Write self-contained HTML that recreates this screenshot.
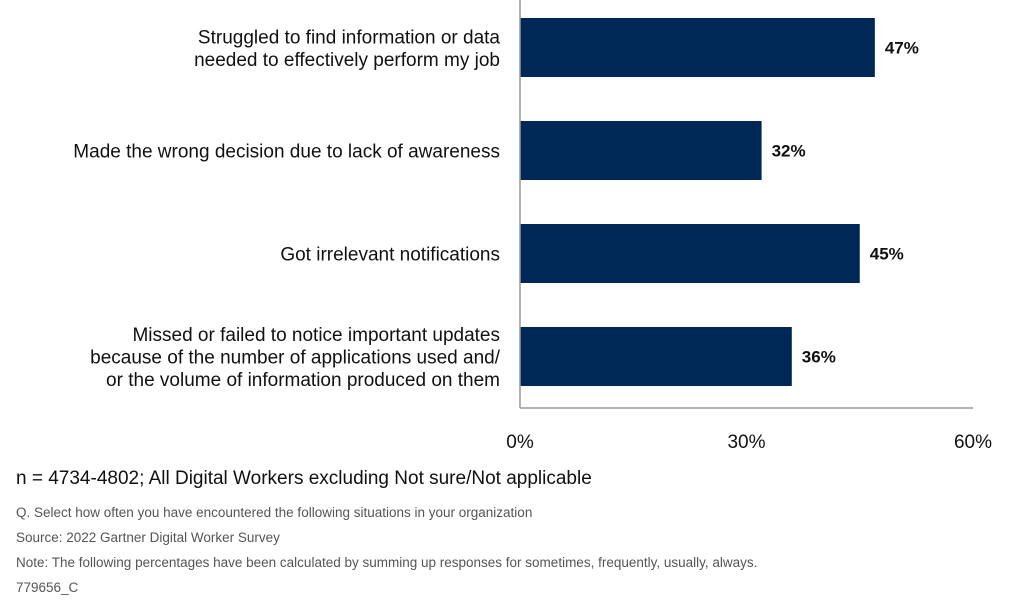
<!DOCTYPE html>
<html><head><meta charset="utf-8"><style>
body{margin:0;background:#fff;width:1024px;height:610px;overflow:hidden;font-family:"Liberation Sans",sans-serif}
svg{display:block}
</style></head><body>
<svg width="1024" height="610">
<g id="chart"></g>
<text x="16" y="484" font-size="19" fill="#111">n = 4734-4802; All Digital Workers excluding Not sure/Not applicable</text>
<text x="16" y="517" font-size="13.5" fill="#555">Q. Select how often you have encountered the following situations in your organization</text>
<text x="16" y="542" font-size="13.5" fill="#555">Source: 2022 Gartner Digital Worker Survey</text>
<text x="16" y="567" font-size="13.5" fill="#555">Note: The following percentages have been calculated by summing up responses for sometimes, frequently, usually, always.</text>
<text x="16" y="592" font-size="13.5" fill="#555">779656_C</text>
</svg>
<script>
const categories=[["Struggled to find information or data","needed to effectively perform my job"],["Made the wrong decision due to lack of awareness"],["Got irrelevant notifications"],["Missed or failed to notice important updates","because of the number of applications used and/","or the volume of information produced on them"]];
const values=[47,32,45,36];
const ticks=[0,30,60];
const ns="http://www.w3.org/2000/svg";
const g=document.getElementById('chart');
const x0=520,scale=7.55;
function x(v){return x0+v*scale;}
function y(i){return 18+i*103;}
const bh=59;
function mk(t,a){const e=document.createElementNS(ns,t);for(const k in a)e.setAttribute(k,a[k]);g.appendChild(e);return e;}
categories.forEach((c,i)=>{
 const r=mk('rect',{x:x(0),y:y(i),width:x(values[i])-x(0),height:bh,fill:'#002856'});
 
 
 const v=mk('text',{x:x(values[i])+10,y:y(i)+bh/2+6,'font-size':17,'font-weight':'bold',fill:'#111'});
 v.textContent=values[i]+'%';
 
 
 const lh=22.5,start=y(i)+bh/2-(c.length-1)*lh/2+7;
 const t=mk('text',{'font-size':19,fill:'#111','text-anchor':'end'});
 
 
 c.forEach((line,j)=>{const s=document.createElementNS(ns,'tspan');s.setAttribute('x',500);s.setAttribute('y',start+j*lh);s.textContent=line;t.appendChild(s);});
});
const ya=mk('line',{x1:x0,y1:0,x2:x0,y2:408,stroke:'#999','stroke-width':1.5});


const xa=mk('line',{x1:x0,y1:408,x2:x(ticks[ticks.length-1]),y2:408,stroke:'#999','stroke-width':1.5});


ticks.forEach(tv=>{
 const t=mk('text',{x:x(tv),y:448,'font-size':19,fill:'#111','text-anchor':'middle'});
 t.textContent=tv+'%';
 
 
});
</script>
</body></html>
